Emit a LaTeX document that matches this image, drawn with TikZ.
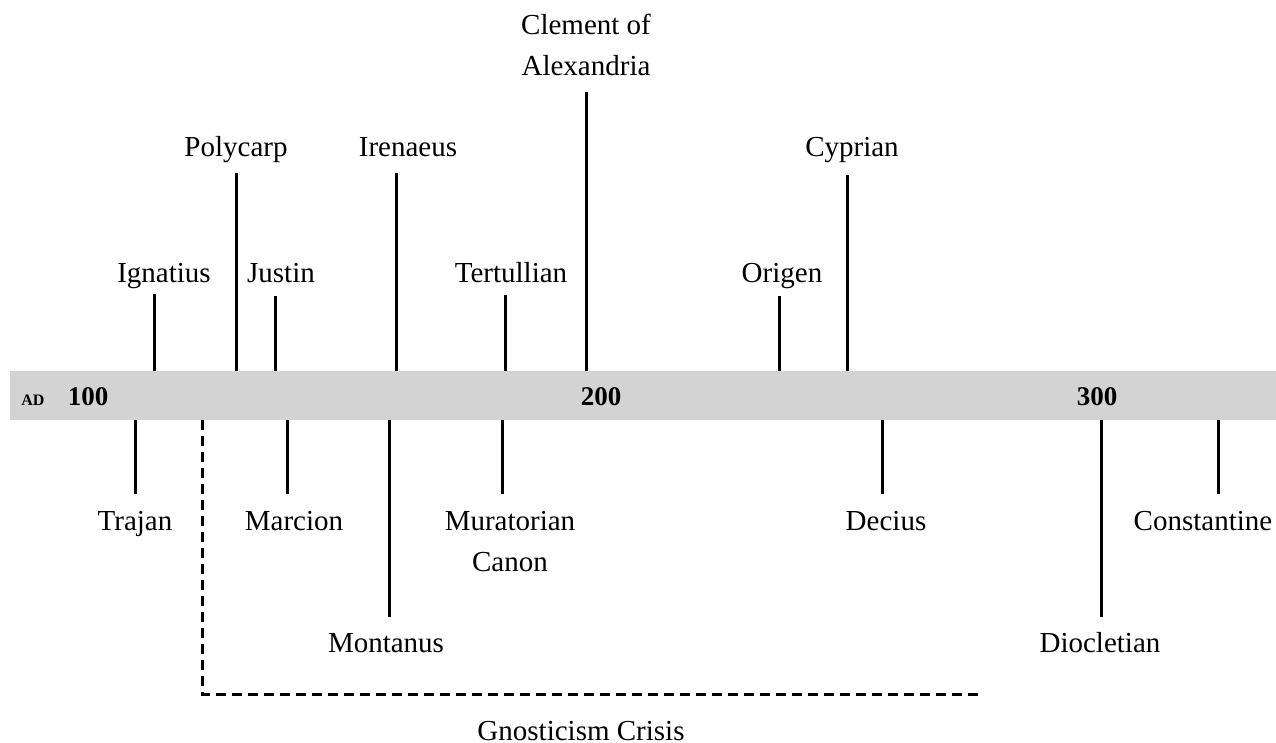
\documentclass[tikz,border=0pt]{standalone}
\usepackage{fontspec}
\setmainfont{Liberation Serif}
\definecolor{bargray}{RGB}{211,211,211}
\tikzset{
  lbl/.style={font=\fontsize{29}{41}\selectfont, inner sep=0pt, anchor=base, align=center},
  yr/.style={font=\fontsize{27}{30}\selectfont\bfseries, inner sep=0pt, anchor=base},
  tick/.style={line width=3pt},
  crisis/.style={line width=3pt, dash pattern=on 10pt off 6pt}
}
\begin{document}
\begin{tikzpicture}[x=1pt,y=-1pt]
\useasboundingbox (0,0) rectangle (1276,743);
% bar
\fill[bargray] (10,371) rectangle (1276,420);
\node[yr, font=\fontsize{16}{18}\selectfont\bfseries] (ad) at (33,405) {AD};
\node[yr] (y100) at (88,405) {100};
\node[yr] (y200) at (601,405) {200};
\node[yr] (y300) at (1097,405) {300};
% top labels
\node[lbl] (ignatius) at (164,282) {Ignatius};
\node[lbl] (polycarp) at (236,157) {Polycarp};
\node[lbl] (justin) at (281,282) {Justin};
\node[lbl] (irenaeus) at (408,157) {Irenaeus};
\node[lbl] (tertullian) at (511,282) {Tertullian};
\node[lbl] (clement) at (586,76) {Clement of\\Alexandria};
\node[lbl] (origen) at (782,282) {Origen};
\node[lbl] (cyprian) at (852,157) {Cyprian};
% bottom labels
\node[lbl] (trajan) at (135,530) {Trajan};
\node[lbl] (marcion) at (294,530) {Marcion};
\node[lbl] (muratorian) at (510,571) {Muratorian\\Canon};
\node[lbl] (montanus) at (386,652) {Montanus};
\node[lbl] (decius) at (886,530) {Decius};
\node[lbl] (diocletian) at (1100,652) {Diocletian};
\node[lbl] (constantine) at (1203,530) {Constantine};
\node[lbl] (gnostic) at (581,740) {Gnosticism Crisis};
% tick coordinates
\foreach \n/\x/\y in {ig/154/294, po/236/173, ju/275/296, ir/396/173, te/505/295, cl/586/92, or/779/296, cy/847/175}{
  \coordinate (\n a) at (\x,371);
  \coordinate (\n b) at (\x,\y);
  \draw[tick] (\n a) -- (\n b);
}
\foreach \n/\x/\y in {tr/135/494, ma/287/494, mo/389/617, mu/502/494, de/882/494, di/1101/617, co/1218/494}{
  \coordinate (\n a) at (\x,420);
  \coordinate (\n b) at (\x,\y);
  \draw[tick] (\n a) -- (\n b);
}
% gnosticism crisis bracket
\coordinate (gs) at (202,420);
\coordinate (gc) at (202,694);
\coordinate (ge) at (980,694);
\draw[crisis] (gs) -- (gc) -- (ge);
\end{tikzpicture}
\end{document}
